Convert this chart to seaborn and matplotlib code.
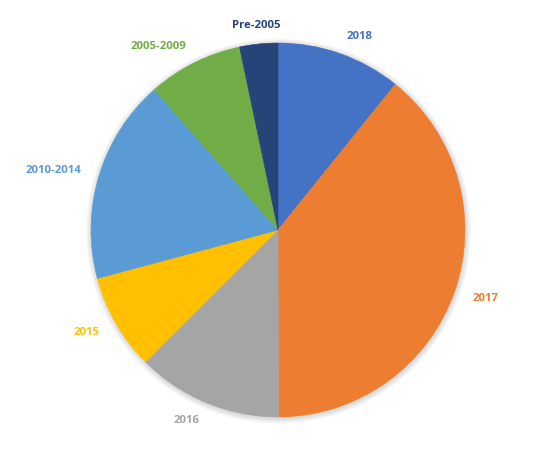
import matplotlib
matplotlib.use("Agg")
import matplotlib.pyplot as plt
from matplotlib.patches import Circle
import seaborn as sns

# datos (porcentaje aproximado de cada grupo)
categorias = ["2018", "2017", "2016", "2015", "2010-2014", "2005-2009", "Pre-2005"]
valores = [10.8, 39.2, 12.6, 8.3, 17.7, 8.2, 3.3]
colores = ["#4472C4", "#ED7D31", "#A5A5A5", "#FFC000", "#5B9BD5", "#70AD47", "#264478"]

sns.set_theme(style="white")
plt.rcParams['font.family'] = ['Open Sans', 'DejaVu Sans']
paleta = sns.color_palette(colores)

fig = plt.figure(figsize=(5.33, 4.5), dpi=100)
ax = fig.add_axes([0, 0, 1, 1])

# sombra suave por detrás del pastel
for i in range(6):
    r = 1.0 + 0.005 * (i + 1)
    ax.add_patch(Circle((0.003, -0.006), r, color="black", alpha=0.025, lw=0, zorder=0))

wedges, textos = ax.pie(valores, labels=categorias, colors=paleta, startangle=90,
                        counterclock=False, labeldistance=1.1,
                        wedgeprops={"linewidth": 0.4, "zorder": 2},
                        textprops={"fontsize": 8.2, "fontweight": "bold"})

# borde del mismo color para evitar rendijas blancas entre porciones
for w, c in zip(wedges, paleta):
    w.set_edgecolor(c)

for t, c in zip(textos, paleta):
    t.set_color(c)
    # etiquetas casi verticales (arriba) centradas como en Excel
    x, y = t.get_position()
    if abs(x) < 0.15 * 1.1:
        t.set_ha("center")

# centro del pastel en (278, 230) px, radio 187 px
ax.set_aspect("auto")
ax.set_xlim(-278 / 187, (533 - 278) / 187)
ax.set_ylim(-(450 - 230) / 187, 230 / 187)
ax.axis("off")

fig.savefig("out.png", dpi=100)
plt.close(fig)
